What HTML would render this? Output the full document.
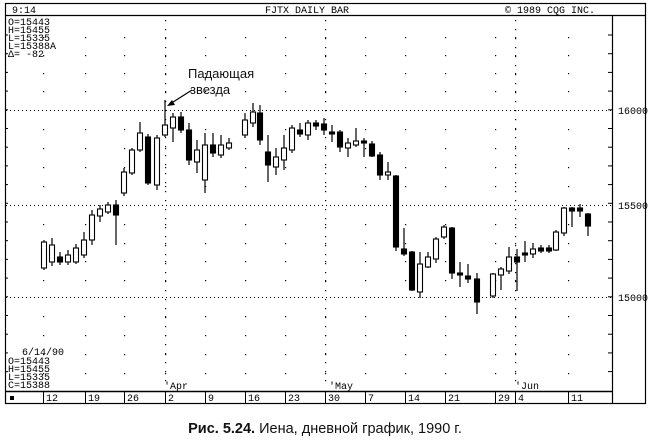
<!DOCTYPE html>
<html><head><meta charset="utf-8"><style>
html,body{margin:0;padding:0;background:#fff;width:650px;height:441px;overflow:hidden}
svg{display:block}
.m{font-family:"Liberation Mono",monospace;font-size:10px;fill:#000}
.cap{font-family:"Liberation Sans","DejaVu Sans",sans-serif;font-size:14.5px;fill:#111}
</style></head><body>
<svg id="s" width="650" height="441" viewBox="0 0 650 441" xmlns="http://www.w3.org/2000/svg">
<rect x="5.5" y="3.5" width="640" height="400" fill="none" stroke="#000" stroke-width="1.2"/>
<line x1="5" y1="15.5" x2="646" y2="15.5" stroke="#000" stroke-width="1.2"/>
<line x1="612.5" y1="15" x2="612.5" y2="403" stroke="#000" stroke-width="1.2"/>
<line x1="5" y1="391.5" x2="612" y2="391.5" stroke="#000" stroke-width="1.5"/>
<text class="m" x="12" y="13">9:14</text>
<text class="m" x="265" y="13">FJTX DAILY BAR</text>
<text class="m" x="505" y="13">©  1989 CQG INC.</text>
<text class="m" x="8" y="25">O=15443</text>
<text class="m" x="8" y="33">H=15455</text>
<text class="m" x="8" y="41">L=15335</text>
<text class="m" x="8" y="49">L=15388A</text>
<text class="m" x="8" y="57">Δ=   -82</text>
<text class="m" x="22" y="355">6/14/90</text>
<text class="m" x="8" y="364">O=15443</text>
<text class="m" x="8" y="372">H=15455</text>
<text class="m" x="8" y="380">L=15335</text>
<text class="m" x="8" y="388">C=15388</text>
<text class="m" x="164" y="389">'Apr</text>
<text class="m" x="329" y="389">'May</text>
<text class="m" x="515" y="389">'Jun</text>
<rect x="10" y="396" width="4" height="4" fill="#000"/>
<text class="m" x="618" y="114">16000</text>
<text class="m" x="618" y="209">15500</text>
<text class="m" x="618" y="301">15000</text>
<text class="cap" x="325" y="433" text-anchor="middle"><tspan font-weight="bold">Рис. 5.24.</tspan> Иена, дневной график, 1990 г.</text>
<text x="188" y="78" font-family="Liberation Sans,sans-serif" font-size="13" fill="#111">Падающая</text>
<text x="190" y="94" font-family="Liberation Sans,sans-serif" font-size="13" fill="#111">звезда</text>
<line x1="192" y1="90" x2="170" y2="104" stroke="#000" stroke-width="1.2"/>
<polygon points="167,106 172,100 175,105" fill="#000"/>
<g id="g"></g>
</svg>
<script>
var g=document.getElementById('g'),h='';
[110,205,297].forEach(function(y){h+='<line x1="6" y1="'+(y+.5)+'" x2="612" y2="'+(y+.5)+'" stroke="#000" stroke-dasharray="1,3"/>';});
var wk=[43,85,124,165,205,245,285,325,365,405,445,495,515,568];
var rows=[37,55,73,91,129,148,167,186,224,243,261,280,316,335,354,373];
wk.forEach(function(x){rows.forEach(function(y){h+='<rect x="'+x+'" y="'+y+'" width="1.2" height="1.2" fill="#000"/>';});});
[165,325,515].forEach(function(x){for(var y=20;y<385;y+=9)h+='<rect x="'+x+'" y="'+y+'" width="1.2" height="1.2" fill="#000"/>';});
for(var y=35;y<390;y+=18.7)h+='<line x1="608" y1="'+y+'" x2="612" y2="'+y+'" stroke="#000"/>';
for(var y=35;y<390;y+=18.7)h+='<line x1="5" y1="'+y+'" x2="8" y2="'+y+'" stroke="#000"/>';
var dl=[[43,'12'],[85,'19'],[124,'26'],[165,'2'],[205,'9'],[245,'16'],[285,'23'],[325,'30'],[365,'7'],[405,'14'],[445,'21'],[495,'29'],[515,'4'],[568,'11']];
dl.forEach(function(d){h+='<line x1="'+(d[0]+.5)+'" y1="392" x2="'+(d[0]+.5)+'" y2="403" stroke="#000"/><text class="m" x="'+(d[0]+3)+'" y="401">'+d[1]+'</text>';});
var c=[[44,242,268,240,270,0],[52,245,262,238,266,0],[60,257,262,252,265,1],[68,255,262,250,265,0],[76,248,262,244,264,0],[84,240,255,232,258,0],[92,215,240,210,245,0],[100,209,216,205,222,0],[108,205,212,202,214,0],[116,205,215,200,245,1],[124,172,193,168,196,0],[132,150,173,148,175,0],[140,133,150,122,152,0],[148,137,183,134,185,1],[157,138,185,135,190,0],[165,125,135,100,137,0],[173,117,128,113,142,0],[181,117,130,112,133,1],[189,130,160,123,165,1],[197,150,162,140,173,0],[205,145,180,133,193,0],[213,145,153,133,157,1],[221,145,155,135,158,0],[229,143,148,138,150,0],[245,120,135,113,138,0],[253,112,123,103,127,0],[260,113,140,105,145,1],[268,152,165,135,182,1],[276,157,167,148,175,0],[284,148,160,135,170,0],[292,128,150,125,153,0],[300,130,134,123,137,1],[308,123,135,120,140,0],[316,123,126,120,130,1],[324,124,130,118,135,1],[332,132,133,125,142,1],[340,132,147,130,152,1],[348,143,148,138,157,0],[356,141,145,128,147,0],[364,141,143,138,157,1],[372,144,156,141,157,1],[380,155,175,152,180,1],[388,172,175,162,180,0],[396,176,247,175,251,1],[404,249,254,228,256,1],[412,252,290,251,291,1],[420,264,292,252,298,0],[428,257,267,252,268,0],[436,239,259,237,263,0],[444,227,237,225,239,0],[452,228,273,227,279,1],[460,273,275,262,287,1],[468,276,279,264,283,1],[477,279,302,273,314,1],[493,274,296,273,298,0],[501,269,275,267,290,0],[509,257,271,247,274,0],[517,257,262,249,291,1],[525,253,255,241,262,1],[533,249,254,243,258,0],[541,248,251,245,253,1],[549,248,251,245,253,1],[556,232,250,230,251,0],[564,208,233,207,236,0],[572,208,211,207,227,1],[580,208,211,204,217,1],[588,214,226,213,236,1]];
c.forEach(function(k){var x=k[0];h+='<line x1="'+x+'" y1="'+k[3]+'" x2="'+x+'" y2="'+k[4]+'" stroke="#000" stroke-width="1.2"/>';
var bh=Math.max(k[2]-k[1],2);h+='<rect x="'+(x-2.5)+'" y="'+k[1]+'" width="5" height="'+bh+'" fill="'+(k[5]?'#000':'#fff')+'" stroke="#000" stroke-width="1.1"/>';});
g.innerHTML=h;
</script>
</body></html>
